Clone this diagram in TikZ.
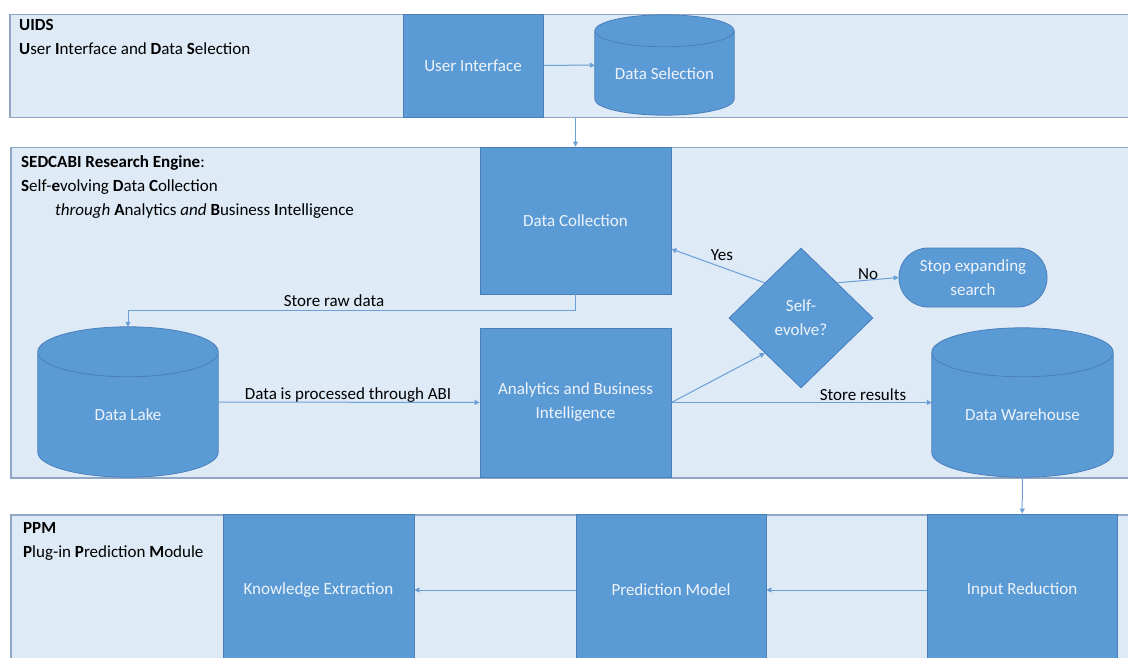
\documentclass[tikz,border=0pt]{standalone}
\usepackage{fontspec}
\setmainfont{Carlito}
\usetikzlibrary{shapes.geometric,arrows.meta,calc}
\definecolor{boxfill}{HTML}{5B9BD5}
\definecolor{boxline}{HTML}{4A7EBB}
\definecolor{panelfill}{HTML}{DEEAF6}
\definecolor{panelline}{HTML}{8FA7C4}
\definecolor{arrowcol}{HTML}{6A9FD8}
\definecolor{boxtxt}{HTML}{EEF3FA}
\newcommand\drawcyl[2]{%
  \path[draw=boxline, fill=boxfill, line width=0.8pt] let \p1=(#1.south west), \p2=(#1.north east) in
    (\x1,\y2-#2) -- (\x1,\y1+#2)
    arc[start angle=180, end angle=360, x radius={(\x2-\x1)/2}, y radius=#2]
    -- (\x2,\y2-#2)
    arc[start angle=0, end angle=180, x radius={(\x2-\x1)/2}, y radius=#2] -- cycle
    (\x1,\y2-#2) arc[start angle=180, end angle=360, x radius={(\x2-\x1)/2}, y radius=#2];
}
\tikzset{
  txt/.style={font=\fontsize{17}{24}\selectfont},
  panel/.style={draw=panelline, fill=panelfill, line width=1.5pt, rectangle, inner sep=0, anchor=north west},
  box/.style={txt, draw=boxline, fill=boxfill, line width=0.8pt, inner sep=0, text=boxtxt, align=center},
  cylbox/.style={inner sep=0, draw=none},
  cyltext/.style={txt, text=boxtxt, inner sep=0},
  lbl/.style={txt, text=black, inner sep=1pt},
  arr/.style={draw=arrowcol, line width=1pt, -{Triangle[length=5pt,width=5pt]}},
  ptitle/.style={txt, anchor=north west, align=left, inner sep=0},
}
\begin{document}
\begin{tikzpicture}[x=1pt, y=1pt]
\useasboundingbox (0,0) rectangle (1128,-658);
% panels
\node[panel, minimum width=1124, minimum height=103] (uids) at (9,-14) {};
\node[panel, minimum width=1124, minimum height=330] (sed) at (10,-147) {};
\node[panel, minimum width=1124, minimum height=160] (ppm) at (10,-514) {};
\node[ptitle] (uidst) at (19,-19) {\textbf{UIDS}\\\textbf{U}ser \textbf{I}nterface and \textbf{D}ata \textbf{S}election};
\node[ptitle] (sedt) at (21,-155) {\textbf{SEDCABI Research Engine}:\\\textbf{S}elf-\textbf{e}volving \textbf{D}ata \textbf{C}ollection\\\hspace*{34pt}\textit{through} \textbf{A}nalytics \textit{and} \textbf{B}usiness \textbf{I}ntelligence};
\node[ptitle] (ppmt) at (23,-522) {\textbf{PPM}\\\textbf{P}lug-in \textbf{P}rediction \textbf{M}odule};
% UIDS
\node[box, minimum width=140, minimum height=103] (ui) at (473,-65.5) {User Interface};
\node[cylbox, minimum width=139, minimum height=100] (ds) at (664.5,-65) {};
\drawcyl{ds}{16pt}
\node[cyltext] (dst) at (664.5,-74) {Data Selection};
% SEDCABI
\node[box, minimum width=191, minimum height=147] (dc) at (575.5,-220.5) {Data Collection};
\node[cylbox, minimum width=180, minimum height=150] (dl) at (128,-402) {};
\drawcyl{dl}{25pt}
\node[cyltext] (dlt) at (128,-415) {Data Lake};
\node[box, minimum width=191, minimum height=149] (abi) at (575.5,-402.5) {Analytics and Business\\Intelligence};
\node[box, diamond, minimum width=144, minimum height=140] (dia) at (801,-318) {Self-\\evolve?};
\node[box, rounded corners=29pt, minimum width=148, minimum height=59] (stop) at (973,-277.5) {Stop expanding\\search};
\node[cylbox, minimum width=181, minimum height=149] (dw) at (1022.5,-402.5) {};
\drawcyl{dw}{24.5pt}
\node[cyltext] (dwt) at (1022.5,-415) {Data Warehouse};
% PPM
\node[box, minimum width=190, minimum height=152] (ir) at (1022,-590) {Input Reduction};
\node[box, minimum width=190, minimum height=152] (pm) at (671,-590) {Prediction Model};
\node[box, minimum width=191, minimum height=152] (ke) at (318.5,-590) {Knowledge Extraction};
% connectors
\draw[arr] (ui) -- (ds);
\draw[arr] (dc.north |- uids.south) -- (dc.north);
\draw[arr] (dc.south) -- ++(0,-16) -| (dl.north);
\draw[arr] (dl) -- (abi);
\draw[arr] (abi.east) -- (dia.south west);
\draw[arr] (abi) -- (dw);
\draw[arr] (dia.north west) -- ([yshift=-28.5pt]dc.east);
\draw[arr] (dia.north east) -- (stop.west);
\draw[arr] (dw) -- (ir);
\draw[arr] (ir) -- (pm);
\draw[arr] (pm) -- (ke);
% labels
\node[lbl] (l1) at (334,-301) {Store raw data};
\node[lbl] (l2) at (348,-395) {Data is processed through ABI};
\node[lbl] (l3) at (722,-255) {Yes};
\node[lbl] (l4) at (868,-274) {No};
\node[lbl] (l5) at (863,-395) {Store results};
\end{tikzpicture}
\end{document}
